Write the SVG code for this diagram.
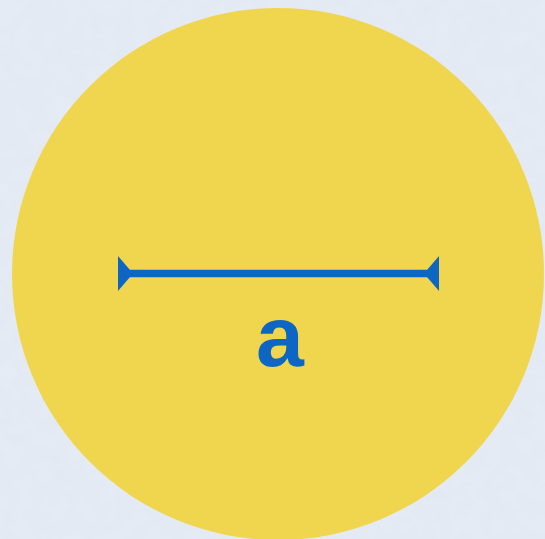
<svg xmlns="http://www.w3.org/2000/svg" width="545" height="539" viewBox="0 0 545 539">
  <style>
    .bg { fill: #e6ecf5; }
    .disc { fill: #f0d64f; }
    .dim { stroke: #0d66c3; stroke-width: 7.5; fill: none; }
    .tick { fill: #0d66c3; }
    .lbl { font-family: "Liberation Sans", Arial, sans-serif; font-weight: bold; font-size: 86px; fill: #0d66c3; text-anchor: middle; }
  </style>
  <defs>
    <filter id="paper" x="0" y="0" width="100%" height="100%">
      <feTurbulence type="fractalNoise" baseFrequency="0.06" numOctaves="3" seed="4" result="n"/>
      <feColorMatrix in="n" type="matrix" values="0 0 0 0 0.5  0 0 0 0 0.55  0 0 0 0 0.65  0 0 0 0.1 0" result="t"/>
      <feComposite in="t" in2="SourceGraphic" operator="atop"/>
    </filter>
  </defs>
  <rect class="bg" x="0" y="0" width="545" height="539" filter="url(#paper)"/>
  <g id="circle">
    <circle class="disc" cx="278" cy="274" r="266"/>
  </g>
  <g id="connectors">
    <line class="dim" x1="125" y1="273.5" x2="432" y2="273.5"/>
    <polygon class="tick" points="118,256 118,291 133,273.5"/>
    <polygon class="tick" points="439,256 439,291 424,273.5"/>
  </g>
  <g id="label">
    <text class="lbl" x="280" y="366">a</text>
  </g>
</svg>
